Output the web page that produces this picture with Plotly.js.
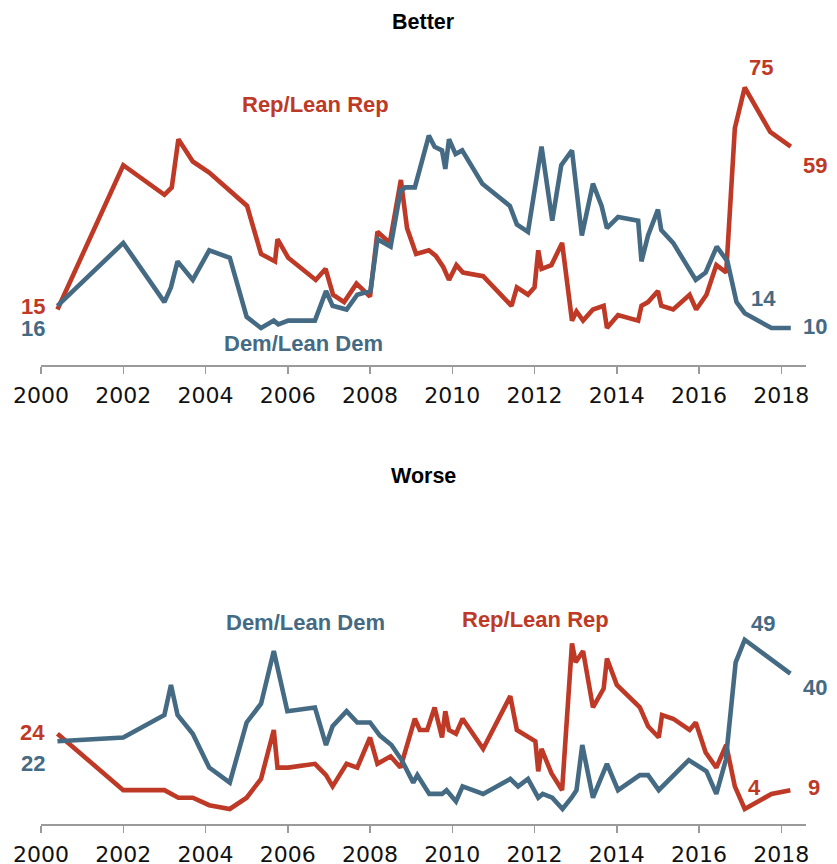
<!DOCTYPE html>
<html>
<head>
<meta charset="utf-8">
<script src="https://cdn.plot.ly/plotly-3.0.1.min.js"></script>
<style>
  html, body { margin: 0; padding: 0; background: #fff; }
  #chart { width: 837px; height: 864px; }
</style>
</head>
<body>
<div id="chart"></div>
<script>
// ---- Data (decimal year, percent) ----
const betterRepX = [2000.40, 2002.00, 2003.00, 2003.18, 2003.34, 2003.69, 2004.09, 2005.01, 2005.35, 2005.69, 2005.75, 2006.01, 2006.68, 2006.92, 2007.10, 2007.37, 2007.67, 2008.00, 2008.18, 2008.48, 2008.75, 2008.90, 2009.12, 2009.43, 2009.60, 2009.78, 2009.92, 2010.10, 2010.26, 2010.75, 2011.44, 2011.57, 2011.84, 2012.00, 2012.09, 2012.17, 2012.41, 2012.67, 2012.91, 2013.02, 2013.18, 2013.42, 2013.68, 2013.76, 2014.03, 2014.52, 2014.60, 2014.76, 2015.00, 2015.08, 2015.37, 2015.77, 2015.93, 2016.18, 2016.42, 2016.66, 2016.87, 2017.11, 2017.73, 2018.23];
const betterRepY = [15, 54, 46, 48, 61, 55, 52, 43, 30, 28, 34, 29, 23, 26, 19, 17, 22, 18.5, 36, 33, 50, 37, 30, 31, 29.5, 26.5, 23, 27, 25, 24, 16, 21, 19, 21, 31, 26, 27, 33, 12, 14.5, 12, 15, 16, 10, 13.5, 12, 16, 17, 20, 16, 15, 19, 15, 19, 27, 25, 64, 75, 63, 59];

const betterDemX = [2000.40, 2002.00, 2003.00, 2003.16, 2003.32, 2003.69, 2004.09, 2004.59, 2005.00, 2005.35, 2005.66, 2005.77, 2006.01, 2006.66, 2006.93, 2007.09, 2007.43, 2007.69, 2008.01, 2008.18, 2008.50, 2008.74, 2008.86, 2009.09, 2009.43, 2009.57, 2009.75, 2009.83, 2009.92, 2010.08, 2010.24, 2010.73, 2011.40, 2011.57, 2011.84, 2012.17, 2012.43, 2012.65, 2012.91, 2013.15, 2013.42, 2013.63, 2013.76, 2014.03, 2014.52, 2014.60, 2014.76, 2015.00, 2015.08, 2015.37, 2015.92, 2016.16, 2016.43, 2016.69, 2016.91, 2017.11, 2017.76, 2018.23];
const betterDemY = [16, 33, 17, 21, 28, 23, 31, 29, 13, 10, 12, 11, 12, 12, 20, 16, 15, 19, 20, 34, 32, 47, 48, 48, 62, 59, 58, 53, 61, 57, 58, 49, 43, 38, 36, 59, 39, 54, 58, 35, 49, 43, 37, 40, 39, 28, 35, 42, 36.5, 33, 23, 25, 32, 28, 17, 14, 10, 10];

const worseRepX = [2000.40, 2002.00, 2003.00, 2003.34, 2003.69, 2004.09, 2004.59, 2005.00, 2005.35, 2005.66, 2005.75, 2006.01, 2006.66, 2006.93, 2007.09, 2007.43, 2007.69, 2008.00, 2008.18, 2008.50, 2008.74, 2009.09, 2009.21, 2009.39, 2009.57, 2009.75, 2009.83, 2009.92, 2010.09, 2010.25, 2010.75, 2011.41, 2011.57, 2012.02, 2012.09, 2012.17, 2012.41, 2012.67, 2012.91, 2013.00, 2013.18, 2013.42, 2013.68, 2013.76, 2014.00, 2014.56, 2014.76, 2015.02, 2015.10, 2015.37, 2015.77, 2015.92, 2016.16, 2016.42, 2016.66, 2016.87, 2017.11, 2017.76, 2018.22];
const worseRepY = [24, 9, 9, 7, 7, 5, 4, 7, 12, 25, 15, 15, 16, 13, 10, 16, 15, 23, 16, 18, 15, 28, 25, 25, 31, 23, 30, 25, 24, 28, 20, 34, 25, 22, 14, 20, 13.5, 9, 48, 43, 46, 31, 36, 44, 37, 31, 26, 23, 29, 28, 25, 27, 19, 15, 21, 10, 4, 8, 9];

const worseDemX = [2000.40, 2002.00, 2003.00, 2003.16, 2003.32, 2003.69, 2004.09, 2004.59, 2005.00, 2005.35, 2005.66, 2005.99, 2006.66, 2006.93, 2007.09, 2007.43, 2007.69, 2008.00, 2008.24, 2008.52, 2008.77, 2008.93, 2009.05, 2009.15, 2009.44, 2009.75, 2009.86, 2010.09, 2010.25, 2010.75, 2011.41, 2011.60, 2011.84, 2012.09, 2012.20, 2012.43, 2012.68, 2012.90, 2013.02, 2013.16, 2013.42, 2013.76, 2014.03, 2014.56, 2014.76, 2015.02, 2015.37, 2015.75, 2016.18, 2016.42, 2016.65, 2016.89, 2017.11, 2017.73, 2018.22];
const worseDemY = [22, 23, 29, 37, 29, 24, 15, 11, 27, 32, 46, 30, 31, 21, 26, 30, 27, 27, 23.5, 21, 17, 13.5, 11, 13, 8, 8, 9, 6, 10, 8, 12, 10, 12, 7, 8, 7, 4, 7, 9, 21, 7, 16, 9, 13, 13, 9, 13, 17, 14, 8, 17, 43, 49, 44, 40];

const tickYears = [2000, 2002, 2004, 2006, 2008, 2010, 2012, 2014, 2016, 2018];
const tickLabels = ["2000", "2002", "2004", "2006", "2008", "2010", "2012", "2014", "2016", "2018"];
const panelTitles = ["Better", "Worse"];
const seriesNames = ["Rep/Lean Rep", "Dem/Lean Dem"];

// ---- Styling ----
const RED = "#BE3A27";
const BLUE = "#456A83";
const FONT = "Liberation Sans, Arial, sans-serif";
const TICKFONT = "DejaVu Sans, sans-serif";

function line(x, y, color, xa, ya, name) {
  return { x: x, y: y, xaxis: xa, yaxis: ya, name: name, type: "scatter", mode: "lines",
           line: { color: color, width: 4.6 }, hoverinfo: "skip", showlegend: false };
}

const data = [
  line(betterRepX, betterRepY, RED, "x", "y", seriesNames[0]),
  line(betterDemX, betterDemY, BLUE, "x", "y", seriesNames[1]),
  line(worseRepX, worseRepY, RED, "x2", "y2", seriesNames[0]),
  line(worseDemX, worseDemY, BLUE, "x2", "y2", seriesNames[1])
];

function xaxisCfg(anchor) {
  return {
    anchor: anchor, domain: [0, 1], range: [2000, 2018.6],
    showgrid: false, zeroline: false, showline: true, linecolor: "#9a9a9a", linewidth: 2,
    ticks: "outside", ticklen: 7, tickwidth: 1.5, tickcolor: "#9a9a9a",
    tickmode: "array", tickvals: tickYears, ticktext: tickLabels,
    ticklabelstandoff: 3,
    tickfont: { family: TICKFONT, size: 22, color: "#111" }, fixedrange: true
  };
}
function yaxisCfg(anchor, domain) {
  return { anchor: anchor, domain: domain, range: [0, 90], visible: false, fixedrange: true };
}

function ann(text, x, y, xa, ya, color, size, xanchor) {
  return { text: "<b>" + text + "</b>", x: x, y: y, xref: xa, yref: ya,
           showarrow: false, xanchor: xanchor || "center", yanchor: "middle",
           font: { family: FONT, size: size, color: color } };
}

const annotations = [
  ann(panelTitles[0], 0.5, 0.9733, "paper", "paper", "#000", 21.5, "center"),
  ann(panelTitles[1], 0.5, 0.4223, "paper", "paper", "#000", 21.5, "center"),
  // Better panel
  ann(seriesNames[0], 2006.68, 70.3, "x", "y", RED, 22),
  ann(seriesNames[1], 2006.39, 5.9, "x", "y", BLUE, 22),
  ann("15", 2000.15, 15.7, "x", "y", RED, 22, "right"),
  ann("16", 2000.15, 10.0, "x", "y", BLUE, 22, "right"),
  ann("75", 2017.5, 80.3, "x", "y", RED, 22),
  ann("59", 2018.49, 53.8, "x", "y", RED, 22, "left"),
  ann("14", 2017.21, 18.1, "x", "y", BLUE, 22, "left"),
  ann("10", 2018.49, 10.5, "x", "y", BLUE, 22, "left"),
  // Worse panel
  ann(seriesNames[1], 2006.44, 53.5, "x2", "y2", BLUE, 22),
  ann(seriesNames[0], 2012.02, 54.5, "x2", "y2", RED, 22),
  ann("24", 2000.15, 24.3, "x2", "y2", RED, 22, "right"),
  ann("22", 2000.15, 16.2, "x2", "y2", BLUE, 22, "right"),
  ann("49", 2017.21, 53.2, "x2", "y2", BLUE, 22, "left"),
  ann("40", 2018.49, 36.2, "x2", "y2", BLUE, 22, "left"),
  ann("4", 2017.15, 9.6, "x2", "y2", RED, 22, "left"),
  ann("9", 2018.59, 9.8, "x2", "y2", RED, 22, "left")
];

const layout = {
  width: 837, height: 864,
  margin: { l: 41, r: 30.5, t: 0, b: 40, pad: 0 },
  paper_bgcolor: "#fff", plot_bgcolor: "#fff",
  showlegend: false,
  xaxis: xaxisCfg("y"),
  yaxis: yaxisCfg("x", [0.5570, 0.9612]),
  xaxis2: xaxisCfg("y2"),
  yaxis2: yaxisCfg("x2", [0, 0.4107]),
  annotations: annotations,
  font: { family: FONT }
};

Plotly.newPlot("chart", data, layout, { displayModeBar: false, staticPlot: true });
</script>
</body>
</html>
